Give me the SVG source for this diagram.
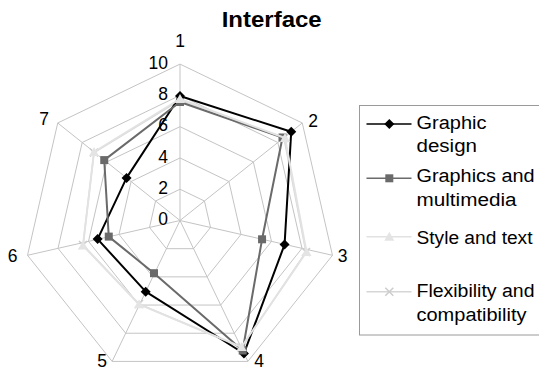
<svg xmlns="http://www.w3.org/2000/svg" xmlns:xlink="http://www.w3.org/1999/xlink" width="539" height="370" viewBox="0 0 539 370">
<style>
text{font-family:"Liberation Sans",Arial,sans-serif;fill:#000}
.grid{fill:none;stroke:#c4c4c4;stroke-width:1}
.tick{font-size:17.5px;text-anchor:end}
.ax{font-size:17.5px;text-anchor:middle}
.leg{font-size:18px}
.s1{fill:none;stroke:#000;stroke-width:2;stroke-linejoin:round}
.s2{fill:none;stroke:#6a6a6a;stroke-width:2;stroke-linejoin:round}
.s3{fill:none;stroke:#e2e2e2;stroke-width:2;stroke-linejoin:round}
.s4{fill:none;stroke:#d6d6d6;stroke-width:1.5;stroke-linejoin:round}
</style>
<defs>
<path id="dia" d="M0,-5L5,0L0,5L-5,0Z" fill="#000"/>
<rect id="sq" x="-4" y="-4" width="8" height="8" fill="#6a6a6a"/>
<path id="tri" d="M0,-5L5,4L-5,4Z" fill="#e4e4e4"/>
<path id="xx" d="M-4,-4L4,4M-4,4L4,-4" stroke="#cccccc" stroke-width="1.5" fill="none"/>
</defs>
<rect width="539" height="370" fill="#fff"/>
<text x="271.7" y="27" font-size="22" font-weight="bold" text-anchor="middle" textLength="100" lengthAdjust="spacingAndGlyphs">Interface</text>
<g id="grid">
<polygon class="grid" points="180,64.1 302.28,122.99 332.48,255.3 247.86,361.41 112.14,361.41 27.52,255.3 57.72,122.99"/>
<polygon class="grid" points="180,95.38 277.82,142.49 301.98,248.34 234.29,333.23 125.71,333.23 58.02,248.34 82.18,142.49"/>
<polygon class="grid" points="180,126.66 253.37,161.99 271.49,241.38 220.72,305.05 139.28,305.05 88.51,241.38 106.63,161.99"/>
<polygon class="grid" points="180,157.94 228.91,181.49 240.99,234.42 207.14,276.86 152.86,276.86 119.01,234.42 131.09,181.49"/>
<polygon class="grid" points="180,189.22 204.46,201 210.5,227.46 193.57,248.68 166.43,248.68 149.5,227.46 155.54,201"/>
<path class="grid" d="M180,220.5L180,64.1M180,220.5L302.28,122.99M180,220.5L332.48,255.3M180,220.5L247.86,361.41M180,220.5L112.14,361.41M180,220.5L27.52,255.3M180,220.5L57.72,122.99"/>
</g>
<g id="ticks">
<text class="tick" x="168" y="68.5">10</text>
<text class="tick" x="168" y="100">8</text>
<text class="tick" x="168" y="131">6</text>
<text class="tick" x="168" y="163">4</text>
<text class="tick" x="168" y="194">2</text>
<text class="tick" x="168" y="225">0</text>
</g>
<g id="axis-labels">
<text class="ax" x="180" y="47">1</text>
<text class="ax" x="313" y="127">2</text>
<text class="ax" x="342.5" y="262">3</text>
<text class="ax" x="259" y="367">4</text>
<text class="ax" x="102" y="367">5</text>
<text class="ax" x="12.5" y="262">6</text>
<text class="ax" x="44" y="125">7</text>
</g>
<g id="series-flexibility">
<polygon class="s4" points="180,100 284,138 306,252 241.5,347.5 139,304 83,245 94,152.5"/>
<use xlink:href="#xx" x="180" y="100"/><use xlink:href="#xx" x="284" y="138"/><use xlink:href="#xx" x="306" y="252"/><use xlink:href="#xx" x="241.5" y="347.5"/><use xlink:href="#xx" x="139" y="304"/><use xlink:href="#xx" x="83" y="245"/><use xlink:href="#xx" x="94" y="152.5"/>
</g>
<g id="series-graphic-design">
<polygon class="s1" points="180,96 291.23,131.8 284.56,244.6 243.95,353.5 145.71,291.7 97.62,239.1 126.55,177.9"/>
<use xlink:href="#dia" x="180" y="96"/><use xlink:href="#dia" x="291.23" y="131.8"/><use xlink:href="#dia" x="284.56" y="244.6"/><use xlink:href="#dia" x="243.95" y="353.5"/><use xlink:href="#dia" x="145.71" y="291.7"/><use xlink:href="#dia" x="97.62" y="239.1"/><use xlink:href="#dia" x="126.55" y="177.9"/>
</g>
<g id="series-graphics-multimedia">
<polygon class="s2" points="180,102 282.5,137.5 262.06,239.3 242.7,350.5 154,273.2 108.76,236.6 104.24,160.1"/>
<use xlink:href="#sq" x="180" y="102"/><use xlink:href="#sq" x="282.5" y="137.5"/><use xlink:href="#sq" x="262.06" y="239.3"/><use xlink:href="#sq" x="242.7" y="350.5"/><use xlink:href="#sq" x="154" y="273.2"/><use xlink:href="#sq" x="108.76" y="236.6"/><use xlink:href="#sq" x="104.24" y="160.1"/>
</g>
<g id="series-style-text">
<polygon class="s3" points="180,99 285,138 306.5,252 241.5,347 139,304.3 83,245.5 94,152"/>
<use xlink:href="#tri" x="180" y="99"/><use xlink:href="#tri" x="285" y="138"/><use xlink:href="#tri" x="306.5" y="252"/><use xlink:href="#tri" x="241.5" y="347"/><use xlink:href="#tri" x="139" y="304.3"/><use xlink:href="#tri" x="83" y="245.5"/><use xlink:href="#tri" x="94" y="152"/>
</g>
<g id="legend">
<rect x="359.5" y="105.5" width="190" height="229.5" fill="#fff" stroke="#9a9a9a" stroke-width="1"/>
<line x1="366.5" y1="124" x2="411.5" y2="124" stroke="#000" stroke-width="1.5"/>
<use xlink:href="#dia" x="389.3" y="124"/>
<text class="leg" x="416.5" y="128.5" textLength="70" lengthAdjust="spacingAndGlyphs">Graphic</text>
<text class="leg" x="416.5" y="152" textLength="60.5" lengthAdjust="spacingAndGlyphs">design</text>
<line x1="366.5" y1="178.3" x2="411.5" y2="178.3" stroke="#6a6a6a" stroke-width="1.5"/>
<use xlink:href="#sq" x="389.3" y="178.3"/>
<text class="leg" x="416.5" y="182" textLength="118" lengthAdjust="spacingAndGlyphs">Graphics and</text>
<text class="leg" x="416.5" y="205.5" textLength="100" lengthAdjust="spacingAndGlyphs">multimedia</text>
<line x1="366.5" y1="236.7" x2="411.5" y2="236.7" stroke="#e2e2e2" stroke-width="1.5"/>
<use xlink:href="#tri" x="389.3" y="236.7"/>
<text class="leg" x="416.5" y="243.5" textLength="116" lengthAdjust="spacingAndGlyphs">Style and text</text>
<line x1="366.5" y1="291.7" x2="411.5" y2="291.7" stroke="#d6d6d6" stroke-width="1.5"/>
<use xlink:href="#xx" x="389.3" y="291.7"/>
<text class="leg" x="416.5" y="297" textLength="118" lengthAdjust="spacingAndGlyphs">Flexibility and</text>
<text class="leg" x="416.5" y="320.5" textLength="110" lengthAdjust="spacingAndGlyphs">compatibility</text>
</g>
</svg>
